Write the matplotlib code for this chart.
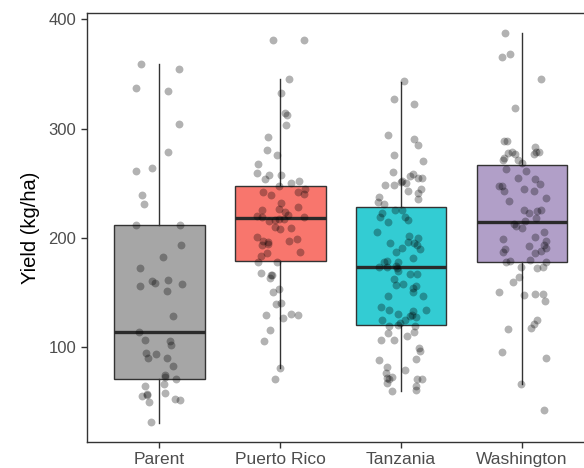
import numpy as np
import matplotlib.pyplot as plt

plt.rcParams['font.family'] = ['Liberation Sans', 'DejaVu Sans']

# Yield by source population (kg/ha)
groups = ['Parent', 'Puerto Rico', 'Tanzania', 'Washington']
colors = ['#A6A6A6', '#F8766D', '#33CCD3', '#B19FC8']

# box statistics: lower whisker, Q1, median, Q3, upper whisker
whislo = [31.0, 80.8, 59.9, 66.6]
q1 = [70.5, 178.5, 120.7, 177.9]
med = [114.3, 218.5, 173.6, 215.0]
q3 = [211.7, 247.2, 228.6, 266.7]
whishi = [359.5, 345.0, 343.0, 387.8]

# individual plots: yield and horizontal jitter
parent_yield = [359.5, 354.3, 337.2, 334.2, 304.7, 278.3, 263.7, 261.2, 239.6, 231.4,
                212.0, 211.7, 193.5, 182.1, 172.1, 161.1, 160.6, 158.4, 157.8, 156.3,
                151.1, 128.6, 114.3, 107.0, 105.5, 101.8, 94.5, 94.0, 90.3, 89.7,
                83.0, 74.5, 73.0, 70.5, 66.6, 64.8, 58.4, 56.8, 56.0, 55.7,
                52.3, 51.4, 50.2, 31.3]
parent_jit = [-0.15, 0.16, -0.19, 0.07, 0.16, 0.075, -0.06, -0.19, -0.14, -0.13,
              -0.19, 0.17, 0.18, 0.03, -0.16, 0.074, -0.06, -0.036, 0.19, -0.16,
              0.066, 0.11, -0.17, -0.12, 0.085, 0.097, -0.107, -0.03, 0.063, -0.093,
              0.11, 0.05, 0.045, 0.14, 0.04, -0.118, 0.05, -0.1, -0.1, -0.143,
              0.13, 0.17, -0.088, -0.07]

pr_yield = [380.7, 380.7, 345.2, 332.7, 313.9, 312.3, 303.2, 292.5, 280.1, 275.5,
            267.6, 259.1, 257.8, 257.6, 253.6, 251.8, 250.0, 247.3, 244.5, 242.3,
            242.1, 240.0, 239.0, 231.8, 228.7, 226.8, 225.6, 224.1, 221.1, 220.4,
            219.5, 219.0, 217.7, 217.4, 216.5, 215.9, 210.4, 209.5, 208.6, 200.4,
            198.9, 197.4, 197.4, 196.2, 194.6, 193.7, 186.7, 186.1, 183.0, 177.9,
            177.6, 167.9, 166.5, 165.7, 163.0, 153.3, 150.5, 140.5, 139.2, 130.7,
            129.8, 129.2, 126.5, 116.1, 105.8, 80.8, 71.2]
pr_jit = [-0.063, 0.2, 0.072, 0.006, 0.036, 0.06, 0.044, -0.1, -0.108, -0.027,
          -0.18, -0.19, 0.006, -0.09, -0.126, 0.157, 0.09, -0.006, 0.207, -0.14,
          0.15, 0.196, -0.08, 0.01, 0.146, -0.008, -0.15, 0.036, 0.063, -0.19,
          0.2, -0.15, 0.03, -0.014, -0.04, -0.09, -0.047, 0.088, 0.002, -0.196,
          0.14, -0.14, 0.074, -0.097, -0.1, -0.15, 0.163, -0.11, -0.16, -0.025,
          -0.18, -0.155, -0.075, -0.07, -0.088, -0.014, -0.058, 0.003, -0.036, 0.09,
          0.146, -0.12, 0.02, -0.085, -0.13, -0.003, -0.041]

tz_yield = [343.3, 327.2, 322.6, 294.1, 290.1, 284.9, 275.8, 270.6, 260.6, 258.2,
            256.7, 254.6, 254.6, 252.1, 251.2, 250.6, 248.4, 248.4, 245.1, 243.3,
            241.5, 237.2, 235.4, 233.2, 231.1, 225.6, 225.6, 223.2, 219.5, 219.5,
            216.5, 214.7, 205.8, 201.3, 199.8, 196.7, 195.3, 195.3, 193.7, 191.2,
            190.0, 186.7, 181.6, 178.5, 177.9, 177.9, 173.9, 173.6, 173.0, 172.4,
            170.0, 167.0, 167.0, 162.4, 158.1, 156.6, 155.7, 154.2, 150.2, 147.2,
            147.2, 136.5, 134.4, 134.4, 133.5, 130.5, 129.8, 128.9, 127.7, 125.3,
            124.4, 122.3, 120.7, 119.8, 119.2, 114.0, 113.1, 109.8, 107.0, 106.1,
            99.5, 96.4, 89.4, 88.1, 81.8, 78.7, 76.0, 72.6, 71.4, 70.5,
            70.5, 70.5, 67.5, 64.4, 60.8, 59.6]
tz_jit = [0.022, -0.06, 0.105, -0.105, 0.11, 0.138, -0.058, 0.184, -0.066, 0.096,
          0.077, 0.138, 0.176, 0.005, -0.002, 0.04, -0.13, -0.06, 0.165, 0.06,
          0.138, -0.18, 0.143, -0.19, -0.138, -0.047, 0.003, -0.155, -0.176, 0.036,
          0.055, -0.105, -0.196, 0.063, 0.14, 0.06, -0.09, 0.11, 0.135, 0.01,
          0.16, -0.044, 0.1, -0.12, -0.143, -0.022, -0.04, -0.18, -0.12, -0.033,
          -0.022, 0.077, 0.13, -0.06, 0.019, -0.044, 0.124, 0.1, 0.096, -0.105,
          0.184, -0.17, -0.097, 0.204, 0.096, -0.03, 0.09, 0.07, 0.124, -0.16,
          0.03, -0.008, -0.022, 0.116, -0.1, 0.105, -0.105, 0.047, -0.165, -0.055,
          0.146, 0.16, 0.12, -0.184, -0.113, 0.036, -0.124, -0.077, -0.12, -0.1,
          0.13, 0.176, -0.12, 0.12, 0.125, -0.072]

wa_yield = [387.8, 368.0, 365.5, 345.8, 319.3, 288.9, 288.3, 282.8, 278.8, 278.3,
            278.3, 277.9, 277.0, 276.7, 273.4, 271.3, 271.3, 268.5, 263.3, 261.2,
            255.1, 253.6, 249.6, 247.8, 247.8, 244.8, 243.2, 243.0, 236.3, 234.1,
            225.6, 225.6, 225.0, 222.6, 218.1, 215.6, 212.9, 211.3, 208.9, 205.3,
            200.4, 198.9, 197.4, 193.7, 192.8, 191.2, 189.8, 187.6, 186.7, 186.1,
            179.4, 178.5, 177.9, 177.9, 173.4, 173.0, 172.4, 164.2, 159.3, 150.2,
            149.0, 148.7, 147.8, 142.6, 125.3, 121.6, 117.7, 116.8, 95.8, 90.3,
            66.6, 42.2]
wa_jit = [-0.138, -0.1, -0.17, 0.155, -0.06, -0.146, -0.127, 0.11, -0.083, 0.116,
          0.143, -0.118, 0.097, -0.058, -0.146, -0.16, -0.036, -0.003, -0.135, 0.036,
          -0.036, 0.11, 0.146, -0.19, -0.17, 0.014, -0.15, 0.1, 0.2, -0.11,
          0.02, 0.16, 0.126, 0.06, 0.118, 0.027, -0.066, -0.052, -0.003, 0.18,
          0.11, -0.16, 0.196, 0.184, 0.06, 0.196, -0.143, 0.16, -0.16, 0.107,
          0.069, -0.1, -0.13, 0.2, 0.17, -0.01, 0.126, -0.025, -0.072, -0.19,
          0.107, 0.17, 0.014, 0.19, 0.12, 0.1, 0.074, -0.118, -0.17, 0.2,
          -0.01, 0.184]

yields = [parent_yield, pr_yield, tz_yield, wa_yield]
jitters = [parent_jit, pr_jit, tz_jit, wa_jit]

fig = plt.figure(figsize=(5.84, 4.68), dpi=100)
ax = fig.add_axes([0.1485, 0.0556, 0.8697, 0.916])

pos = np.arange(1, len(groups) + 1)
stats = [dict(whislo=whislo[i], q1=q1[i], med=med[i], q3=q3[i], whishi=whishi[i],
              fliers=[]) for i in range(len(groups))]
bp = ax.bxp(stats, positions=pos, widths=0.75, patch_artist=True, showcaps=False,
            showfliers=False,
            boxprops=dict(edgecolor='#333333', linewidth=1.0),
            whiskerprops=dict(color='#333333', linewidth=1.0),
            medianprops=dict(color='#2a2a2a', linewidth=2.4, solid_capstyle='butt'))
for patch, c in zip(bp['boxes'], colors):
    patch.set_facecolor(c)

# jittered raw points on top of the boxes
for p, y, j in zip(pos, yields, jitters):
    ax.scatter(p + np.array(j), y, s=32, color='black', alpha=0.3,
               linewidths=0, zorder=5)

ax.set_xlim(0.4, 4.6)
ax.set_ylim(13.2, 405.6)
ax.set_yticks([100, 200, 300, 400])
ax.set_xticks(pos)
ax.set_xticklabels(groups)
ax.set_ylabel('Yield (kg/ha)', fontsize=14.5, color='black', labelpad=6)

for side in ['left', 'bottom', 'top', 'right']:
    ax.spines[side].set_color('#333333')
    ax.spines[side].set_linewidth(1.0)
ax.tick_params(axis='both', length=4, width=1.0, color='#333333',
               labelcolor='#4D4D4D', labelsize=12)
ax.tick_params(axis='x', labelsize=12.5, pad=3)

fig.savefig('out.png', dpi=100)
